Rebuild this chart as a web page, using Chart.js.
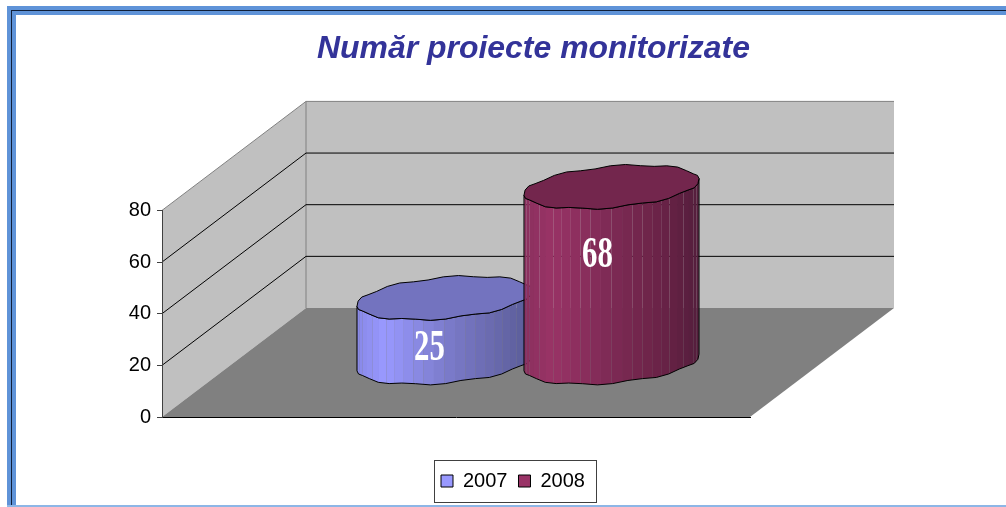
<!DOCTYPE html>
<html><head><meta charset="utf-8">
<style>
html,body{margin:0;padding:0;background:#fff;width:1006px;height:507px;overflow:hidden}
canvas{position:absolute;left:0;top:0}
.f{position:absolute}
</style>
<script src="https://cdn.jsdelivr.net/npm/chart.js@4"></script>
</head><body>
<div class="f" style="left:7px;top:6px;width:999px;height:9px;background:#5f93d8"></div>
<div class="f" style="left:7px;top:6px;width:9px;height:501px;background:#5f93d8"></div>
<div class="f" style="left:11px;top:10px;width:995px;height:1px;background:#10203a"></div>
<div class="f" style="left:11px;top:10px;width:1px;height:497px;background:#10203a"></div>
<div class="f" style="left:7px;top:505px;width:999px;height:2px;background:#8db6e6"></div>
<canvas id="c" width="1006" height="507"></canvas>
<script>
const titleText = 'Număr proiecte monitorizate';
const categories = [''];
const seriesNames = ['2007', '2008'];
const values2007 = [25];
const values2008 = [68];
const yTicks = [0, 20, 40, 60, 80];
const labelShift = [18, -19];
const labelNudgeX = [57, 58];

const DX = 144, DY = 109;
const sideStops = [
  [[0,[136,136,232]],[.16,[153,153,255]],[.5,[124,124,204]],[.8,[104,104,172]],[1,[88,92,150]]],
  [[0,[138,48,94]],[.16,[153,51,102]],[.5,[125,42,84]],[.8,[104,34,70]],[1,[84,30,60]]]
];
const topColors = ['#7373bf', '#73264d'];

function mix(stops, p){
  for(let i=1;i<stops.length;i++){
    if(p<=stops[i][0]){
      const a=stops[i-1], b=stops[i], q=(p-a[0])/(b[0]-a[0]);
      return 'rgb('+a[1].map((v,j)=>Math.round(v+(b[1][j]-v)*q)).join(',')+')';
    }
  }
  return 'rgb('+stops[stops.length-1][1].join(',')+')';
}
function outline(cx, cy, w){
  const pts=[], n=36;
  for(let i=0;i<n;i++){
    const t=i/n*Math.PI*2, c=Math.cos(t), s=Math.sin(t);
    pts.push([
      cx + (w/2)*c + 0.2*DX*s,
      cy - 0.2*DY*s + 1.1*Math.sin(9*t+1)
    ]);
  }
  return pts;
}
const scene = {
  id:'scene',
  afterLayout(ch){
    const t=ch.titleBlock, l=ch.legend;
    t.left=317; t.right=750; t.top=30; t.bottom=68;
    l.left=430; l.right=600; l.top=460; l.bottom=499;
  },
  beforeDraw(ch){
    const g=ch.ctx, a=ch.chartArea, y=ch.scales.y;
    const L=a.left, R=a.right, B=y.getPixelForValue(0), T=y.getPixelForValue(80);
    g.save();
    g.fillStyle='#c0c0c0'; g.strokeStyle='#808080'; g.lineWidth=1;
    g.beginPath(); g.moveTo(L,B); g.lineTo(L,T); g.lineTo(L+DX,T-DY); g.lineTo(R+DX,T-DY); g.lineTo(R+DX,B-DY); g.lineTo(L+DX,B-DY); g.closePath(); g.fill();
    g.beginPath(); g.moveTo(L,T); g.lineTo(L+DX,T-DY); g.lineTo(R+DX,T-DY); g.moveTo(L+DX,T-DY); g.lineTo(L+DX,B-DY); g.stroke();
    g.fillStyle='#808080';
    g.beginPath(); g.moveTo(L,B); g.lineTo(R,B); g.lineTo(R+DX,B-DY); g.lineTo(L+DX,B-DY); g.closePath(); g.fill();
    g.strokeStyle='#000';
    yTicks.forEach(v=>{
      if(v===0||v===80) return;
      const p=y.getPixelForValue(v);
      g.beginPath(); g.moveTo(L,p); g.lineTo(L+DX,p-DY); g.lineTo(R+DX,p-DY); g.stroke();
    });
    g.restore();
  },
  beforeDatasetDraw(){ return false; },
  afterDatasetsDraw(ch){
    const g=ch.ctx, y=ch.scales.y, B=y.getPixelForValue(0);
    ch.data.datasets.forEach((ds,i)=>{
      const el=ch.getDatasetMeta(i).data[0];
      const cx=el.x+DX/2, w=el.width;
      const yBot=B-DY/2, yTop=el.y-DY/2;
      const top=outline(cx,yTop,w), bot=outline(cx,yBot,w);
      let li=0, ri=0;
      top.forEach((p,k)=>{ if(p[0]<top[li][0]) li=k; if(p[0]>top[ri][0]) ri=k; });
      const n=top.length, frontIdx=[];
      for(let k=ri;;k=(k+1)%n){ frontIdx.push(k); if(k===li) break; }
      const backCheck=frontIdx.reduce((s,k)=>s+top[k][1],0)/frontIdx.length;
      let arc=frontIdx;
      if(backCheck<yTop){ arc=[]; for(let k=li;;k=(k+1)%n){ arc.push(k); if(k===ri) break; } }
      const xl=top[li][0], xr=top[ri][0];
      const sidePath=new Path2D();
      arc.forEach((k,m)=>{ m?sidePath.lineTo(top[k][0],top[k][1]):sidePath.moveTo(top[k][0],top[k][1]); });
      arc.slice().reverse().forEach(k=>sidePath.lineTo(bot[k][0],bot[k][1]));
      sidePath.closePath();
      g.save();
      g.clip(sidePath);
      const fac=26;
      for(let f=0;f<fac;f++){
        const x0=(xl+xr)/2-(xr-xl)/2*Math.cos(f/fac*Math.PI);
        const x1=(xl+xr)/2-(xr-xl)/2*Math.cos((f+1)/fac*Math.PI);
        g.fillStyle=mix(sideStops[i],((x0+x1)/2-xl)/(xr-xl));
        g.fillRect(x0,yTop-40,x1-x0,yBot-yTop+80);
      }
      g.restore();
      g.save();
      g.strokeStyle='#000'; g.lineWidth=1; g.lineJoin='round';
      g.stroke(sidePath);
      g.beginPath();
      top.forEach((p,k)=>{ k?g.lineTo(p[0],p[1]):g.moveTo(p[0],p[1]); });
      g.closePath();
      g.fillStyle=topColors[i]; g.fill(); g.stroke();
      g.restore();
      g.save();
      g.translate(el.x+labelNudgeX[i], (yTop+yBot)/2+labelShift[i]);
      g.scale(0.7,1);
      g.fillStyle='#fff'; g.font='bold 44px "Liberation Serif"';
      g.textAlign='center'; g.textBaseline='middle';
      g.fillText(String(ds.data[0]),0,0);
      g.restore();
    });
    g.save(); g.strokeStyle='#404040'; g.lineWidth=1;
    g.strokeRect(434.5,460.5,162,42); g.restore();
  }
};
new Chart(document.getElementById('c'),{
  type:'bar',
  data:{labels:categories,datasets:[
    {label:seriesNames[0],data:values2007,backgroundColor:'#9999ff',borderColor:'#000',borderWidth:1},
    {label:seriesNames[1],data:values2008,backgroundColor:'#993366',borderColor:'#000',borderWidth:1}
  ]},
  plugins:[scene],
  options:{
    responsive:false,animation:false,
    layout:{padding:{top:172,right:256,bottom:49,left:0}},
    datasets:{bar:{categoryPercentage:0.568,barPercentage:0.99}},
    plugins:{
      tooltip:{enabled:false},
      legend:{display:true,position:'bottom',align:'start',
        labels:{boxWidth:12,boxHeight:12,padding:11,color:'#000',font:{family:'"Liberation Sans"',size:20}}},
      title:{display:true,text:titleText,color:'#333399',position:'top',
        font:{family:'"Liberation Sans"',size:32,weight:'bold',style:'italic'},padding:0}
    },
    scales:{
      x:{grid:{display:false,drawTicks:false},border:{color:'#000'},ticks:{display:false},
         afterFit(s){s.height=0;}},
      y:{min:0,max:80,afterBuildTicks(s){s.ticks=yTicks.map(v=>({value:v}));},
         grid:{drawOnChartArea:false,tickLength:5,color:'#404040'},border:{color:'#404040'},
         ticks:{color:'#000',padding:6,font:{family:'"Liberation Sans"',size:20}},
         afterFit(s){s.width=162;}}
    }
  }
});
</script>
</body></html>
